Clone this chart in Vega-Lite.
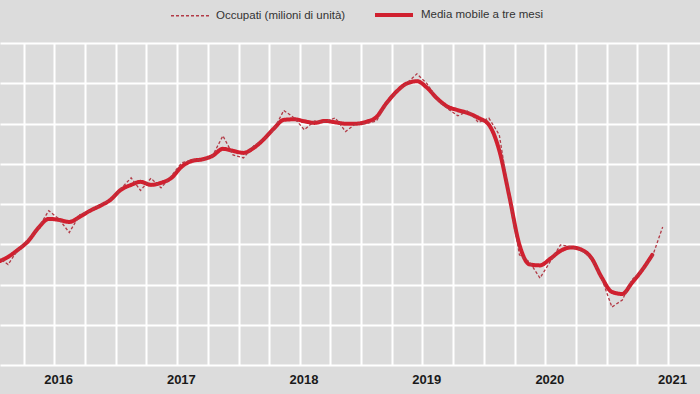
{
  "$schema": "https://vega.github.io/schema/vega-lite/v6.json",
  "width": 700,
  "height": 322,
  "autosize": "none",
  "padding": {"left": 0, "top": 43, "right": 0, "bottom": 29},
  "background": "#dcdcdc",
  "config": {
    "view": {"stroke": null, "fill": "#dcdcdc"},
    "font": "Liberation Sans"
  },
  "data": {
    "values": [
      {"d": "2016-01-15", "o": 22.537, "m": 22.512},
      {"d": "2016-02-15", "o": 22.499, "m": 22.537},
      {"d": "2016-03-15", "o": 22.572, "m": 22.572},
      {"d": "2016-04-15", "o": 22.621, "m": 22.616},
      {"d": "2016-05-15", "o": 22.681, "m": 22.681},
      {"d": "2016-06-15", "o": 22.767, "m": 22.726},
      {"d": "2016-07-15", "o": 22.726, "m": 22.721},
      {"d": "2016-08-15", "o": 22.658, "m": 22.711},
      {"d": "2016-09-15", "o": 22.746, "m": 22.736},
      {"d": "2016-10-15", "o": 22.766, "m": 22.766},
      {"d": "2016-11-15", "o": 22.796, "m": 22.791},
      {"d": "2016-12-15", "o": 22.820, "m": 22.820},
      {"d": "2017-01-15", "o": 22.875, "m": 22.870},
      {"d": "2017-02-15", "o": 22.930, "m": 22.895},
      {"d": "2017-03-15", "o": 22.867, "m": 22.910},
      {"d": "2017-04-15", "o": 22.928, "m": 22.895},
      {"d": "2017-05-15", "o": 22.880, "m": 22.905},
      {"d": "2017-06-15", "o": 22.940, "m": 22.930},
      {"d": "2017-07-15", "o": 23.004, "m": 22.985},
      {"d": "2017-08-15", "o": 23.019, "m": 23.014},
      {"d": "2017-09-15", "o": 23.019, "m": 23.022},
      {"d": "2017-10-15", "o": 23.039, "m": 23.039},
      {"d": "2017-11-15", "o": 23.139, "m": 23.074},
      {"d": "2017-12-15", "o": 23.044, "m": 23.064},
      {"d": "2018-01-15", "o": 23.029, "m": 23.054},
      {"d": "2018-02-15", "o": 23.089, "m": 23.079},
      {"d": "2018-03-15", "o": 23.119, "m": 23.119},
      {"d": "2018-04-15", "o": 23.169, "m": 23.174},
      {"d": "2018-05-15", "o": 23.265, "m": 23.218},
      {"d": "2018-06-15", "o": 23.228, "m": 23.221},
      {"d": "2018-07-15", "o": 23.169, "m": 23.211},
      {"d": "2018-08-15", "o": 23.213, "m": 23.203},
      {"d": "2018-09-15", "o": 23.208, "m": 23.213},
      {"d": "2018-10-15", "o": 23.228, "m": 23.206},
      {"d": "2018-11-15", "o": 23.160, "m": 23.199},
      {"d": "2018-12-15", "o": 23.199, "m": 23.199},
      {"d": "2019-01-15", "o": 23.199, "m": 23.208},
      {"d": "2019-02-15", "o": 23.213, "m": 23.233},
      {"d": "2019-03-15", "o": 23.298, "m": 23.298},
      {"d": "2019-04-15", "o": 23.358, "m": 23.358},
      {"d": "2019-05-15", "o": 23.398, "m": 23.398},
      {"d": "2019-06-15", "o": 23.447, "m": 23.410},
      {"d": "2019-07-15", "o": 23.398, "m": 23.378},
      {"d": "2019-08-15", "o": 23.318, "m": 23.323},
      {"d": "2019-09-15", "o": 23.273, "m": 23.283},
      {"d": "2019-10-15", "o": 23.238, "m": 23.266},
      {"d": "2019-11-15", "o": 23.263, "m": 23.251},
      {"d": "2019-12-15", "o": 23.205, "m": 23.228},
      {"d": "2020-01-15", "o": 23.227, "m": 23.194},
      {"d": "2020-02-15", "o": 23.144, "m": 23.066},
      {"d": "2020-03-15", "o": 22.845, "m": 22.845},
      {"d": "2020-04-15", "o": 22.547, "m": 22.597},
      {"d": "2020-05-15", "o": 22.512, "m": 22.500},
      {"d": "2020-06-15", "o": 22.432, "m": 22.495},
      {"d": "2020-07-15", "o": 22.512, "m": 22.527},
      {"d": "2020-08-15", "o": 22.597, "m": 22.567},
      {"d": "2020-09-15", "o": 22.587, "m": 22.584},
      {"d": "2020-10-15", "o": 22.572, "m": 22.574},
      {"d": "2020-11-15", "o": 22.532, "m": 22.532},
      {"d": "2020-12-15", "o": 22.432, "m": 22.437},
      {"d": "2021-01-15", "o": 22.288, "m": 22.363},
      {"d": "2021-02-15", "o": 22.323, "m": 22.353},
      {"d": "2021-03-15", "o": 22.422, "m": 22.407},
      {"d": "2021-04-15", "o": 22.472, "m": 22.472},
      {"d": "2021-05-15", "o": 22.537, "m": 22.547},
      {"d": "2021-06-15", "o": 22.686}
    ]
  },
  "encoding": {
    "x": {
      "field": "d",
      "type": "temporal",
      "title": null,
      "scale": {
        "type": "utc",
        "domain": [
          {"year": 2016, "month": 1, "date": 22, "utc": true},
          {"year": 2021, "month": 10, "date": 4, "utc": true}
        ]
      },
      "axis": {
        "values": [
          {"year": 2016, "month": 4, "date": 1, "utc": true},
          {"year": 2016, "month": 7, "date": 1, "utc": true},
          {"year": 2016, "month": 10, "date": 1, "utc": true},
          {"year": 2017, "month": 1, "date": 1, "utc": true},
          {"year": 2017, "month": 4, "date": 1, "utc": true},
          {"year": 2017, "month": 7, "date": 1, "utc": true},
          {"year": 2017, "month": 10, "date": 1, "utc": true},
          {"year": 2018, "month": 1, "date": 1, "utc": true},
          {"year": 2018, "month": 4, "date": 1, "utc": true},
          {"year": 2018, "month": 7, "date": 1, "utc": true},
          {"year": 2018, "month": 10, "date": 1, "utc": true},
          {"year": 2019, "month": 1, "date": 1, "utc": true},
          {"year": 2019, "month": 4, "date": 1, "utc": true},
          {"year": 2019, "month": 7, "date": 1, "utc": true},
          {"year": 2019, "month": 10, "date": 1, "utc": true},
          {"year": 2020, "month": 1, "date": 1, "utc": true},
          {"year": 2020, "month": 4, "date": 1, "utc": true},
          {"year": 2020, "month": 7, "date": 1, "utc": true},
          {"year": 2020, "month": 10, "date": 1, "utc": true},
          {"year": 2021, "month": 1, "date": 1, "utc": true},
          {"year": 2021, "month": 4, "date": 1, "utc": true},
          {"year": 2021, "month": 7, "date": 1, "utc": true}
        ],
        "labelExpr": "utcmonth(datum.value) == 6 ? utcFormat(datum.value, '%Y') : ''",
        "grid": true,
        "gridColor": "#ffffff",
        "gridWidth": 2,
        "gridOpacity": 1,
        "domain": false,
        "ticks": false,
        "labelOverlap": false,
        "labelBound": false,
        "labelFlush": false,
        "labelOffset": 4,
        "labelPadding": 8,
        "labelFontSize": 13,
        "labelFontWeight": "bold",
        "labelColor": "#1a1a1a",
        "labelFont": "Liberation Sans"
      }
    }
  },
  "layer": [
    {
      "mark": {"type": "line", "clip": true, "strokeCap": "round", "strokeJoin": "round", "interpolate": "monotone"},
      "encoding": {
        "y": {
          "field": "m",
          "type": "quantitative",
          "title": null,
          "scale": {"domain": [22.0, 23.6], "nice": false, "zero": false},
          "axis": {
            "values": [22.0, 22.2, 22.4, 22.6, 22.8, 23.0, 23.2, 23.4, 23.6],
            "grid": true,
            "gridColor": "#ffffff",
            "gridWidth": 2,
            "gridOpacity": 1,
            "labels": false,
            "ticks": false,
            "domain": false
          }
        },
        "color": {
          "datum": "media",
          "scale": {"domain": ["occupati", "media"], "range": ["#b23a46", "#d0202f"]},
          "legend": {
            "title": null,
            "orient": "none",
            "legendX": 170,
            "legendY": -49,
            "direction": "horizontal",
            "symbolType": "stroke",
            "symbolSize": 1444,
            "labelOffset": 6,
            "columnPadding": 21,
            "padding": 0,
            "labelFont": "Liberation Sans",
            "labelFontSize": 11.5,
            "labelColor": "#333333",
            "labelExpr": "datum.label == 'occupati' ? 'Occupati (milioni di unità)' : 'Media mobile a tre mesi'"
          }
        },
        "strokeDash": {
          "datum": "media",
          "scale": {"domain": ["occupati", "media"], "range": [[3, 2], [1, 0]]}
        },
        "strokeWidth": {
          "datum": "media",
          "scale": {"domain": ["occupati", "media"], "range": [1.3, 4]}
        }
      }
    },
    {
      "mark": {"type": "line", "clip": true},
      "encoding": {
        "y": {"field": "o", "type": "quantitative"},
        "color": {"datum": "occupati"},
        "strokeDash": {"datum": "occupati"},
        "strokeWidth": {"datum": "occupati"}
      }
    }
  ]
}
